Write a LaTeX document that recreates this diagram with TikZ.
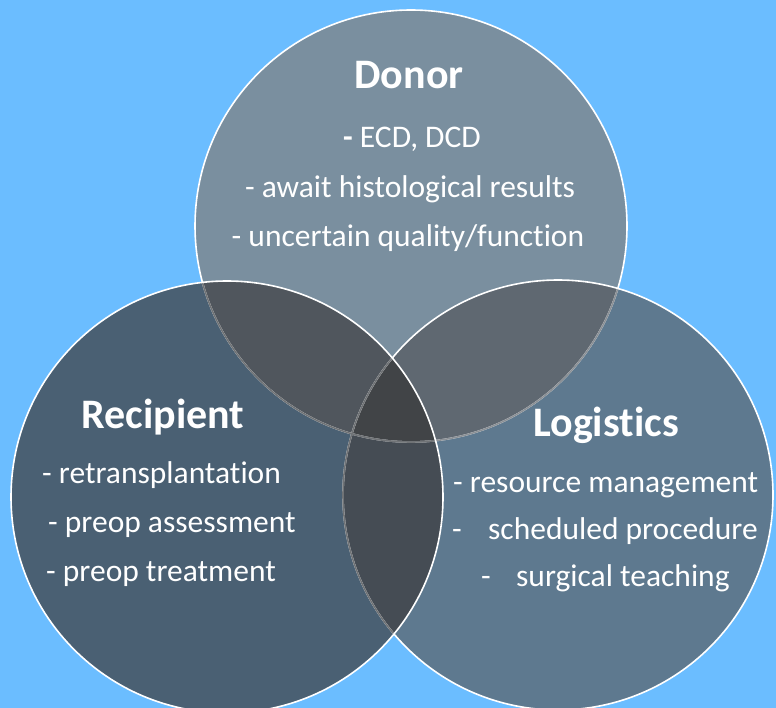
\documentclass[tikz,border=0pt]{standalone}
\usepackage{fontspec}
\setmainfont[Ligatures=CommonOff]{Carlito}
\definecolor{bgblue}{RGB}{107,189,255}
\definecolor{cD}{RGB}{122,143,159}
\definecolor{cL}{RGB}{94,121,143}
\definecolor{cR}{RGB}{74,96,115}
\definecolor{cDL}{RGB}{95,104,113}
\definecolor{cDR}{RGB}{80,86,93}
\definecolor{cRL}{RGB}{69,76,84}
\definecolor{cT}{RGB}{65,68,71}
\definecolor{lineL}{RGB}{140,145,150}
\definecolor{lineR}{RGB}{112,115,118}
\begin{document}
\begin{tikzpicture}[x=1pt,y=-1pt,
  ring/.style={draw=white,line width=1.6pt},
  title/.style={font=\fontsize{42}{48}\selectfont\bfseries,text=white,inner sep=0pt},
  item/.style={font=\fontsize{31.5}{36}\selectfont,text=white,inner sep=0pt}]
\fill[bgblue] (0,0) rectangle (776,708);
\useasboundingbox (0,0) rectangle (776,708);
\def\rd{216pt}
\def\rl{215pt}
\def\rr{216pt}
\coordinate (cd) at (411,226);
\coordinate (cl) at (558,495);
\coordinate (cr) at (227,497);
% solid fills
\fill[cD] (cd) circle[radius=\rd];
\fill[cL] (cl) circle[radius=\rl];
\fill[cR] (cr) circle[radius=\rr];
\begin{scope}
  \clip (cd) circle[radius=\rd];
  \fill[cDL] (cl) circle[radius=\rl];
  \fill[cDR] (cr) circle[radius=\rr];
\end{scope}
\begin{scope}
  \clip (cl) circle[radius=\rl];
  \fill[cRL] (cr) circle[radius=\rr];
  \clip (cd) circle[radius=\rd];
  \fill[cT] (cr) circle[radius=\rr];
\end{scope}
% outlines
\draw[ring] (cd) circle[radius=\rd];
\begin{scope}
  \clip (cl) circle[radius=\rl];
  \draw[ring,draw=lineL] (cd) circle[radius=\rd];
\end{scope}
\draw[ring] (cl) circle[radius=\rl];
\begin{scope}
  \clip (cr) circle[radius=\rr];
  \draw[ring,draw=lineR] (cd) circle[radius=\rd];
  \draw[ring,draw=lineR] (cl) circle[radius=\rl];
\end{scope}
\draw[ring] (cr) circle[radius=\rr];
% Donor
\node[title,anchor=base] (dt) at (409,89) {Donor};
\node[item,anchor=base] (d1) at (412,148) {\textbf{-} ECD, DCD};
\node[item,anchor=base] (d2) at (410,198) {- await histological results};
\node[item,anchor=base] (d3) at (408,247) {- uncertain quality/function};
% Recipient
\node[title,anchor=base] (rt) at (163,428) {Recipient};
\node[item,anchor=base west] (r1) at (42,483) {- retransplantation};
\node[item,anchor=base west] (r2) at (48,532) {- preop assessment};
\node[item,anchor=base west] (r3) at (46,581) {- preop treatment};
% Logistics
\node[title,anchor=base] (lt) at (606,436) {Logistics};
\node[item,anchor=base west] (l1) at (453,492) {- resource management};
\node[item,anchor=base west] (l2) at (452,539) {\makebox[36pt][l]{-}scheduled procedure};
\node[item,anchor=base west] (l3) at (481,586) {\makebox[35pt][l]{-}surgical teaching};
\end{tikzpicture}
\end{document}
